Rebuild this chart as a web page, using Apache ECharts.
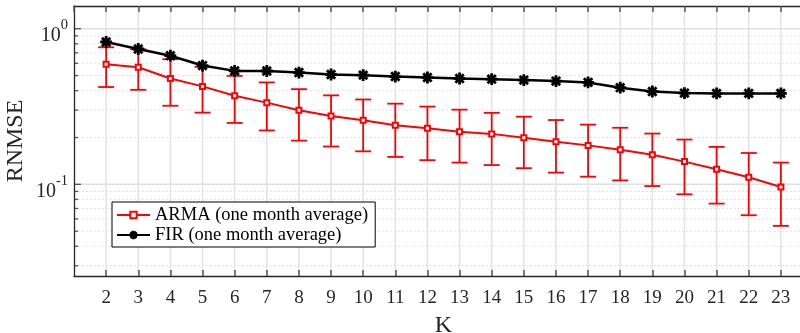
<!DOCTYPE html>
<html>
<head>
<meta charset="utf-8">
<script src="https://cdn.jsdelivr.net/npm/echarts@6/dist/echarts.min.js"></script>
<style>
  html, body { margin: 0; padding: 0; background: #fff; }
  #chart { width: 800px; height: 333px; }
</style>
</head>
<body>
<div id="chart"></div>
<script>
// Model order K on the horizontal axis
const K = [2, 3, 4, 5, 6, 7, 8, 9, 10, 11, 12, 13, 14, 15, 16, 17, 18, 19, 20, 21, 22, 23];

// ARMA (one month average): mean RNMSE with lower / upper error limits
const armaMean = [0.592, 0.566, 0.479, 0.426, 0.371, 0.335, 0.299, 0.275, 0.258, 0.240, 0.229,
                  0.218, 0.211, 0.199, 0.188, 0.178, 0.167, 0.155, 0.140, 0.125, 0.111, 0.0961];
const armaLow  = [0.422, 0.405, 0.320, 0.289, 0.248, 0.222, 0.191, 0.175, 0.163, 0.150, 0.143,
                  0.138, 0.133, 0.127, 0.119, 0.112, 0.106, 0.0975, 0.0863, 0.0752, 0.0633, 0.0541];
const armaHigh = [0.760, 0.738, 0.637, 0.569, 0.498, 0.452, 0.409, 0.373, 0.351, 0.330, 0.316,
                  0.302, 0.288, 0.272, 0.259, 0.242, 0.231, 0.212, 0.194, 0.174, 0.159, 0.138];

// FIR (one month average): RNMSE
const firMean = [0.822, 0.741, 0.671, 0.580, 0.536, 0.535, 0.523, 0.508, 0.503, 0.493, 0.486,
                 0.479, 0.474, 0.468, 0.461, 0.452, 0.418, 0.395, 0.386, 0.384, 0.384, 0.384];

// Log-axis decades and their minor subdivisions
const yMajor = [0.1, 1];
const yMajorExp = ['-1', '0'];
const yMinor = [0.03, 0.04, 0.05, 0.06, 0.07, 0.08, 0.09, 0.2, 0.3, 0.4, 0.5, 0.6, 0.7, 0.8, 0.9];

const xMin = 1, xMax = 24;
const yMin = 0.02576, yMax = 1.4;

const NAME_ARMA = 'ARMA (one month average)';
const NAME_FIR = 'FIR (one month average)';
const FONT = '"Liberation Serif", "Times New Roman", serif';
const TEXT = '#262626';

// Asterisk marker built from four crossed bars
const ASTERISK = 'path://M9 0H11V20H9Z M0 9H20V11H0Z M2.2 3.6L3.6 2.2L17.8 16.4L16.4 17.8Z M16.4 2.2L17.8 3.6L3.6 17.8L2.2 16.4Z';

const yGridData = yMajor.map((v, i) => [xMin, v, 1, i]).concat(yMinor.map(v => [xMin, v, 0, -1]));

function renderYGrid(params, api) {
  const v = api.value(1);
  const major = api.value(2) === 1;
  const a = api.coord([xMin, v]);
  const b = api.coord([xMax, v]);
  const children = [
    {
      type: 'line',
      shape: { x1: a[0], y1: a[1], x2: b[0], y2: b[1] },
      style: major ? { stroke: '#e0e0e0', lineWidth: 1.5 }
                   : { stroke: '#d6d6d6', lineWidth: 1, lineDash: [1.5, 2.5] }
    },
    {
      type: 'line',
      shape: { x1: a[0], y1: a[1], x2: a[0] + (major ? 7 : 4), y2: a[1] },
      style: { stroke: '#555', lineWidth: 1.3 }
    }
  ];
  if (major) {
    const exp = yMajorExp[api.value(3)];
    children.push({
      type: 'text',
      x: a[0] - 6,
      y: a[1] + 3,
      style: {
        text: '{m|10}{e|' + exp + '}',
        align: 'right',
        verticalAlign: 'middle',
        rich: {
          m: { fontFamily: FONT, fontSize: 20, fill: TEXT, padding: [8, 0, 0, 0] },
          e: { fontFamily: FONT, fontSize: 14.5, fill: TEXT, verticalAlign: 'top' }
        }
      }
    });
  }
  return { type: 'group', children };
}

function renderXGrid(params, api) {
  const k = api.value(0);
  const a = api.coord([k, yMin]);
  const b = api.coord([k, yMax]);
  return {
    type: 'line',
    shape: { x1: a[0], y1: a[1], x2: b[0], y2: b[1] },
    style: { stroke: '#e3e3e3', lineWidth: 1.5 }
  };
}

function renderErrorBar(params, api) {
  const k = api.value(0);
  const lo = api.coord([k, api.value(1)]);
  const hi = api.coord([k, api.value(2)]);
  const w = 8;
  const st = { stroke: '#ff0000', lineWidth: 1.8 };
  return {
    type: 'group',
    children: [
      { type: 'line', shape: { x1: lo[0], y1: lo[1], x2: hi[0], y2: hi[1] }, style: st },
      { type: 'line', shape: { x1: hi[0] - w, y1: hi[1], x2: hi[0] + w, y2: hi[1] }, style: st },
      { type: 'line', shape: { x1: lo[0] - w, y1: lo[1], x2: lo[0] + w, y2: lo[1] }, style: st }
    ]
  };
}

const chart = echarts.init(document.getElementById('chart'), null, { renderer: 'canvas' });

const baseX = {
  type: 'value',
  min: xMin,
  max: xMax,
  interval: 1,
  z: 10,
  axisLine: { show: true, onZero: false, lineStyle: { color: '#262626', width: 1.3 } },
  axisTick: { show: true, inside: true, length: 6, lineStyle: { color: '#555', width: 1.5 } },
  splitLine: { show: false }
};

chart.setOption({
  animation: false,
  backgroundColor: '#ffffff',
  grid: {
    left: 74, top: 6, width: 739, height: 270,
    containLabel: false,
    outerBoundsMode: 'none'
  },
  xAxis: [
    Object.assign({}, baseX, {
      position: 'bottom',
      name: 'K',
      nameLocation: 'middle',
      nameGap: 38,
      nameTextStyle: { fontFamily: FONT, fontSize: 24, color: TEXT },
      axisLabel: {
        show: true, margin: 13, fontFamily: FONT, fontSize: 19, color: TEXT,
        showMinLabel: false, showMaxLabel: false
      }
    }),
    Object.assign({}, baseX, {
      position: 'top',
      axisLabel: { show: false }
    })
  ],
  yAxis: {
    type: 'log',
    logBase: 10,
    min: yMin,
    max: yMax,
    z: 10,
    name: 'RNMSE',
    nameLocation: 'middle',
    nameRotate: 90,
    nameGap: 46,
    nameTextStyle: { fontFamily: FONT, fontSize: 24, color: TEXT },
    axisLine: { show: true, onZero: false, lineStyle: { color: '#262626', width: 1.3 } },
    axisTick: { show: false },
    axisLabel: { show: false },
    splitLine: { show: false }
  },
  legend: {
    data: [NAME_ARMA, NAME_FIR],
    orient: 'vertical',
    left: 112,
    top: 202,
    z: 20,
    itemWidth: 33,
    itemHeight: 8,
    itemGap: 0,
    padding: [3, 7, 2, 4],
    borderColor: '#000',
    borderWidth: 1,
    borderRadius: 0,
    backgroundColor: '#ffffff',
    textStyle: { fontFamily: FONT, fontSize: 18.5, color: '#000', lineHeight: 20 }
  },
  series: [
    {
      name: 'ygrid',
      type: 'custom',
      z: 0,
      silent: true,
      clip: false,
      renderItem: renderYGrid,
      data: yGridData
    },
    {
      name: 'xgrid',
      type: 'custom',
      z: 0,
      silent: true,
      renderItem: renderXGrid,
      data: K.map(k => [k])
    },
    {
      name: 'armaErr',
      type: 'custom',
      z: 2,
      renderItem: renderErrorBar,
      encode: { x: 0, y: [1, 2] },
      data: K.map((k, i) => [k, armaLow[i], armaHigh[i]])
    },
    {
      name: NAME_ARMA,
      type: 'line',
      z: 3,
      data: K.map((k, i) => [k, armaMean[i]]),
      symbol: 'emptyRect',
      symbolSize: 5,
      showAllSymbol: true,
      lineStyle: { color: '#ff0000', width: 2 },
      itemStyle: { color: '#ff0000', borderColor: '#ff0000', borderWidth: 2 }
    },
    {
      name: NAME_FIR,
      type: 'line',
      z: 4,
      data: K.map((k, i) => [k, firMean[i]]),
      symbol: ASTERISK,
      symbolSize: 10,
      showAllSymbol: true,
      lineStyle: { color: '#000000', width: 2.5 },
      itemStyle: { color: '#000000', borderColor: '#000000', borderWidth: 1.8 }
    }
  ]
});
</script>
</body>
</html>
